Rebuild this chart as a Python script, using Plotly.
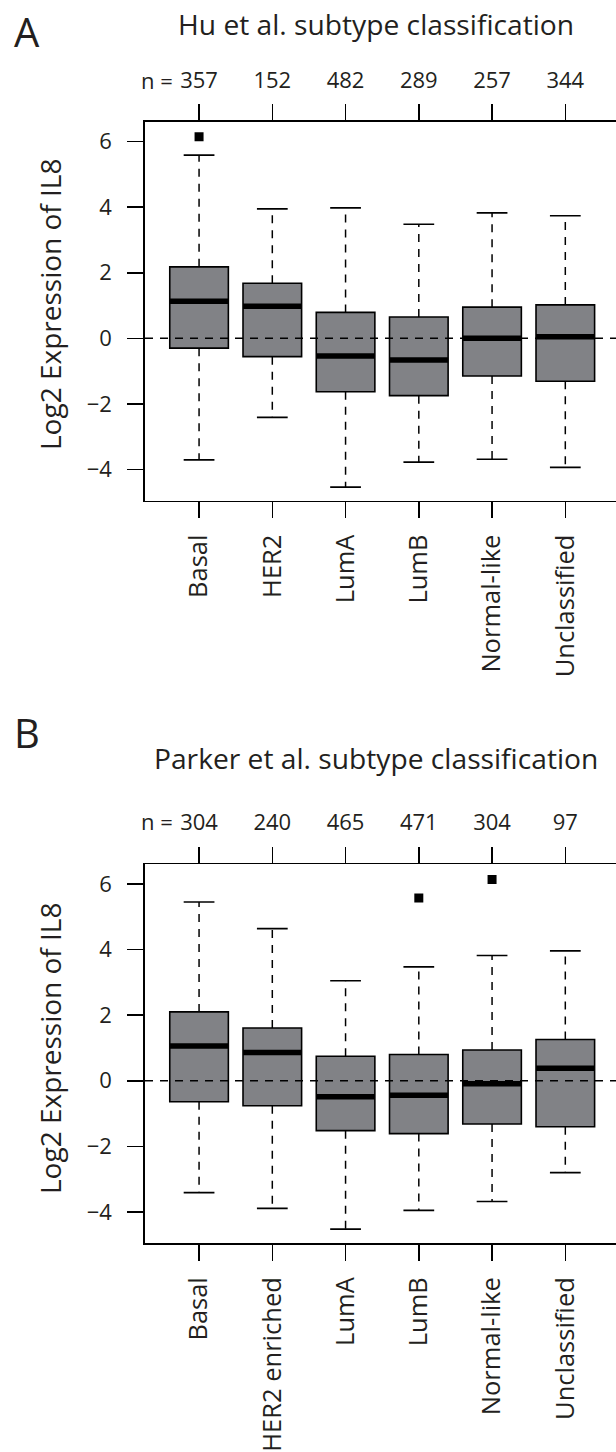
import plotly.graph_objects as go

# ---------------- data ----------------
cats_A = ["Basal", "HER2", "LumA", "LumB", "Normal-like", "Unclassified"]
n_A = [357, 152, 482, 289, 257, 344]
q1_A = [-0.30, -0.56, -1.63, -1.75, -1.15, -1.31]
med_A = [1.13, 0.98, -0.54, -0.66, 0.00, 0.05]
q3_A = [2.18, 1.68, 0.79, 0.65, 0.95, 1.02]
lo_A = [-3.71, -2.41, -4.54, -3.78, -3.69, -3.94]
hi_A = [5.59, 3.95, 3.98, 3.48, 3.83, 3.74]
out_cat_A = ["Basal"]
out_val_A = [6.15]

cats_B = ["Basal", "HER2 enriched", "LumA", "LumB", "Normal-like", "Unclassified"]
n_B = [304, 240, 465, 471, 304, 97]
q1_B = [-0.64, -0.76, -1.52, -1.61, -1.32, -1.40]
med_B = [1.06, 0.86, -0.49, -0.44, -0.09, 0.38]
q3_B = [2.10, 1.61, 0.75, 0.80, 0.94, 1.26]
lo_B = [-3.41, -3.89, -4.52, -3.95, -3.68, -2.80]
hi_B = [5.45, 4.64, 3.05, 3.47, 3.82, 3.96]
out_cat_B = ["LumB", "Normal-like"]
out_val_B = [5.57, 6.14]

y_ticks = [-4, -2, 0, 2, 4, 6]

# ---------------- style ----------------
FONT = "Open Sans"
TXT = "#231f20"
FILL = "#818286"
BOXW = 0.8
CAPW = 0.42
FW, FH = 616, 1452


def PX(px):
    return px / FW


def PY(py):
    return 1 - py / FH


fig = go.Figure()


def add_panel(cats, q1, med, q3, lo, hi, ocat, oval, xref, yref, xtref):
    pos = list(range(1, len(cats) + 1))
    fig.add_trace(go.Box(
        x=pos, q1=q1, median=med, q3=q3, lowerfence=q1, upperfence=q3,
        width=BOXW, fillcolor=FILL, line=dict(color="black", width=1.6),
        whiskerwidth=0, boxpoints=False, showlegend=False, hoverinfo="skip",
        xaxis=xref, yaxis=yref))
    wx, wy = [], []
    for p, a, b, c, d in zip(pos, q3, hi, q1, lo):
        wx += [p, p, None, p, p, None]
        wy += [a, b, None, c, d, None]
    fig.add_trace(go.Scatter(x=wx, y=wy, mode="lines",
                             line=dict(color="black", width=1.5, dash="8px,7px"),
                             showlegend=False, hoverinfo="skip", xaxis=xref, yaxis=yref))
    mx, my = [], []
    for p, m in zip(pos, med):
        mx += [p - BOXW / 2, p + BOXW / 2, None]
        my += [m, m, None]
    fig.add_trace(go.Scatter(x=mx, y=my, mode="lines",
                             line=dict(color="black", width=5.5),
                             showlegend=False, hoverinfo="skip", xaxis=xref, yaxis=yref))
    cx, cy = [], []
    for p, a, b in zip(pos, hi, lo):
        cx += [p - CAPW / 2, p + CAPW / 2, None, p - CAPW / 2, p + CAPW / 2, None]
        cy += [a, a, None, b, b, None]
    fig.add_trace(go.Scatter(x=cx, y=cy, mode="lines",
                             line=dict(color="black", width=1.7),
                             showlegend=False, hoverinfo="skip", xaxis=xtref, yaxis=yref))
    ox = [cats.index(c) + 1 for c in ocat]
    fig.add_trace(go.Scatter(x=ox, y=oval, mode="markers",
                             marker=dict(symbol="square", size=9, color="black"),
                             showlegend=False, hoverinfo="skip", xaxis=xref, yaxis=yref))
    fig.add_shape(type="line", xref=xref + " domain", yref=yref, x0=0, x1=1, y0=0, y1=0,
                  line=dict(color="black", width=1.5, dash="8px,7px"), layer="above")


add_panel(cats_A, q1_A, med_A, q3_A, lo_A, hi_A, out_cat_A, out_val_A, "x", "y", "x3")
add_panel(cats_B, q1_B, med_B, q3_B, lo_B, hi_B, out_cat_B, out_val_B, "x2", "y2", "x4")

XR = [0.262, 6.692]
YR = [-4.955, 6.6]
XDOM = [PX(145), 1.0]
YDOM_A = [PY(500.7), PY(122)]
YDOM_B = [PY(1243.3), PY(864.3)]

common_x = dict(range=XR, domain=XDOM, showgrid=False, zeroline=False, showline=True,
                linecolor="black", linewidth=1.7, ticks="outside", ticklen=16,
                tickwidth=1.5, tickcolor="black", tickvals=list(range(1, 7)))
common_y = dict(range=YR, showgrid=False, zeroline=False, showline=True,
                linecolor="black", linewidth=1.7, ticks="outside", ticklen=16,
                tickwidth=1.5, tickcolor="black", tickvals=y_ticks,
                tickfont=dict(family=FONT, size=22, color=TXT), ticklabelstandoff=11)
bottom_font = dict(family=FONT, size=25.5, color=TXT)
top_font = dict(family=FONT, size=22, color=TXT)

fig.update_layout(
    width=FW, height=FH, autosize=False,
    margin=dict(l=0, r=0, t=0, b=0),
    paper_bgcolor="white", plot_bgcolor="white",
    font=dict(family=FONT, color=TXT),
    xaxis=dict(**common_x, anchor="y", ticktext=cats_A, tickangle=-90,
               tickfont=bottom_font, ticklabelstandoff=6),
    xaxis2=dict(**common_x, anchor="y2", ticktext=cats_B, tickangle=-90,
                tickfont=bottom_font, ticklabelstandoff=6),
    xaxis3=dict(**common_x, anchor="y", overlaying="x", side="top",
                ticktext=[str(v) for v in n_A], tickangle=0,
                tickfont=top_font, ticklabelstandoff=8),
    xaxis4=dict(**common_x, anchor="y2", overlaying="x2", side="top",
                ticktext=[str(v) for v in n_B], tickangle=0,
                tickfont=top_font, ticklabelstandoff=8),
    yaxis=dict(**common_y, domain=YDOM_A, anchor="x"),
    yaxis2=dict(**common_y, domain=YDOM_B, anchor="x2"),
)

ann = [
    dict(text="A", x=PX(12), y=PY(31), xanchor="left", yanchor="middle",
         font=dict(size=40)),
    dict(text="B", x=PX(12), y=PY(732), xanchor="left", yanchor="middle",
         font=dict(size=40)),
    dict(text="Hu et al. subtype classification", x=PX(375.7), y=PY(24),
         xanchor="center", yanchor="middle", font=dict(size=28.2)),
    dict(text="Parker et al. subtype classification", x=PX(375.7), y=PY(758),
         xanchor="center", yanchor="middle", font=dict(size=28.2)),
    dict(text="n =", x=PX(175), y=PY(79.5), xanchor="right", yanchor="middle",
         font=dict(size=22)),
    dict(text="n =", x=PX(175), y=PY(820.8), xanchor="right", yanchor="middle",
         font=dict(size=22)),
    dict(text="Log2 Expression of IL8", x=PX(50), y=PY(305), textangle=-90,
         xanchor="center", yanchor="middle", font=dict(size=28)),
    dict(text="Log2 Expression of IL8", x=PX(50), y=PY(1049), textangle=-90,
         xanchor="center", yanchor="middle", font=dict(size=28)),
]
for a in ann:
    a.update(xref="paper", yref="paper", showarrow=False)
    a["font"].update(family=FONT, color=TXT)
fig.update_layout(annotations=ann)

# remove the browser's default 8px body margin so the figure sits at the page origin
fig.write_html("out.html",
               config={"displayModeBar": False, "staticPlot": True},
               post_script="document.body.style.margin='0';document.body.style.padding='0';")
